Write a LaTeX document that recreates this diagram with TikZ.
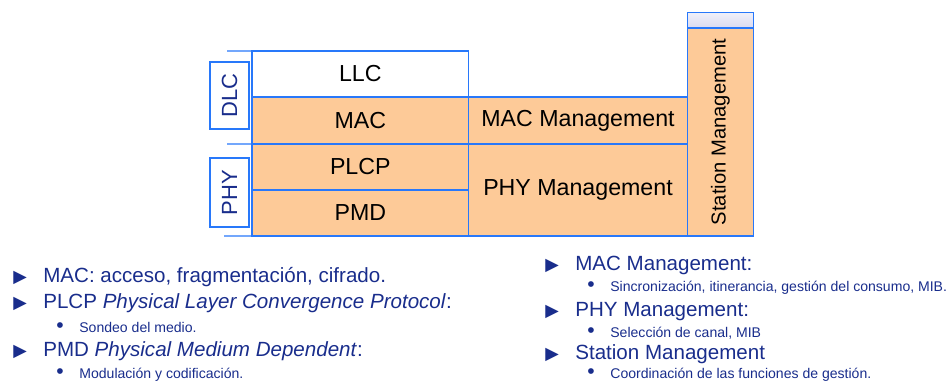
\documentclass[tikz,border=0pt]{standalone}
\usepackage{fontspec}
\setmainfont{Liberation Sans}
\newfontfamily\symfont{DejaVu Sans}
\usetikzlibrary{positioning}
\definecolor{wlblue}{RGB}{40,120,250}
\definecolor{wlpeach}{RGB}{253,202,152}
\definecolor{wlnavy}{RGB}{25,45,140}
\definecolor{wlhead}{RGB}{218,218,240}
\tikzset{
  layer/.style={draw=wlblue, fill=wlpeach, line width=0.7pt, inner sep=0pt, outer sep=0pt, font=\fontsize{13.2}{15}\selectfont},
  side/.style={draw=wlblue, fill=white, line width=0.7pt, inner sep=0pt, outer sep=0pt, minimum width=0.78cm, text=wlnavy, font=\fontsize{12.5}{14}\selectfont},
  edge/.style={draw=wlblue, line width=0.7pt},
  item/.style={anchor=base west, inner sep=0pt, text=wlnavy, font=\fontsize{11.7}{14}\selectfont},
  subitem/.style={anchor=base west, inner sep=0pt, text=wlnavy, font=\fontsize{8}{10}\selectfont},
}
\newcommand{\itmark}{\makebox[0.6cm][l]{\symfont\fontsize{10}{10}\selectfont ▶}}
\newcommand{\subdot}{\makebox[0.46cm][l]{\fontsize{12}{12}\selectfont •}}

\begin{document}
\begin{tikzpicture}[x=0.02cm, y=-0.02cm]
  \useasboundingbox (0,0) rectangle (950,382);

  %% Protocol stack
  \node[layer, fill=white, minimum width=4.33cm, minimum height=0.92cm] (llc) at (360.3,74) {LLC};
  \node[layer, minimum width=4.33cm, minimum height=0.94cm, below=0pt of llc]  (mac)  {MAC};
  \node[layer, minimum width=4.33cm, minimum height=0.92cm, below=0pt of mac]  (plcp) {PLCP};
  \node[layer, minimum width=4.33cm, minimum height=0.92cm, below=0pt of plcp] (pmd)  {PMD};

  \node[layer, minimum width=4.38cm, minimum height=0.94cm, right=0pt of mac]  (macm) {MAC Management};
  \node[layer, minimum width=4.38cm, minimum height=1.84cm, below=0pt of macm] (phym) {PHY Management};

  \node[layer, minimum width=1.32cm, minimum height=4.16cm, anchor=south west, font=\fontsize{11.5}{13}\selectfont] (station) at (phym.south east) {\rotatebox{90}{Station Management}};
  \node[layer, top color=white!60!wlhead, bottom color=wlhead, minimum width=1.32cm, minimum height=0.31cm, anchor=south] (stahead) at (station.north) {};

  %% Side labels
  \node[side, minimum height=1.34cm] (dlc) at (229.5,95.5)  {\rotatebox{90}{DLC}};
  \node[side, minimum height=1.38cm] (phy) at (229.5,192.5) {\rotatebox{90}{PHY}};

  \coordinate (ltop) at (227,51);
  \coordinate (lmid) at (227,144);
  \coordinate (lbot) at (224,236);
  \draw[edge] (ltop) -- (llc.north west);
  \draw[edge] (lmid) -- (plcp.north west);
  \draw[edge] (lbot) -- (pmd.south west);

  %% Left list
  \node[item] (i1) at (13,282) {\itmark MAC: acceso, fragmentación, cifrado.};
  \node[item] (i2) at (13,308) {\itmark PLCP \textit{Physical Layer Convergence Protocol}:};
  \node[subitem] (s2) at (56,332) {\subdot Sondeo del medio.};
  \node[item] (i3) at (13,356) {\itmark PMD \textit{Physical Medium Dependent}:};
  \node[subitem] (s3) at (56,378.5) {\subdot Modulación y codificación.};

  %% Right list
  \node[item] (i4) at (545,270) {\itmark MAC Management:};
  \node[subitem] (s4) at (587,291) {\subdot Sincronización, itinerancia, gestión del consumo, MIB.};
  \node[item] (i5) at (545,316) {\itmark PHY Management:};
  \node[subitem] (s5) at (587,337) {\subdot Selección de canal, MIB};
  \node[item] (i6) at (545,359) {\itmark Station Management};
  \node[subitem] (s6) at (587,378.5) {\subdot Coordinación de las funciones de gestión.};
\end{tikzpicture}
\end{document}
